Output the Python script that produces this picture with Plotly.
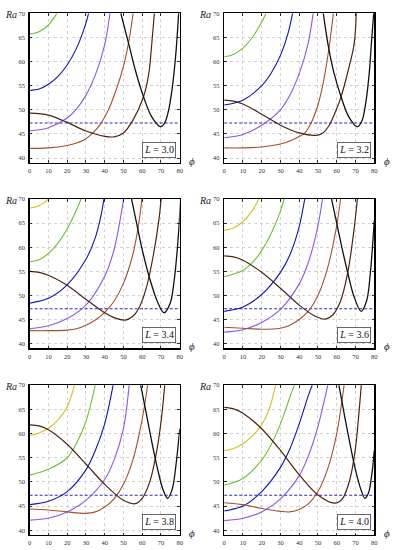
import plotly.graph_objects as go

# ---------------- data ----------------
L_labels = ["3.0", "3.2", "3.4", "3.6", "3.8", "4.0"]
threshold_Ra = 47.25
x_ticks = [0, 10, 20, 30, 40, 50, 60, 70, 80]
y_ticks = [40, 45, 50, 55, 60, 65, 70]

# curve order: yellow, green, blue, purple, brown, darkbrown, black
curve_names = ["yellow", "green", "blue", "purple", "brown", "darkbrown", "black"]
curve_colors = ["#d6bf1f", "#6cc12e", "#1010c0", "#8a55ee", "#a0522d", "#4a2612", "#111111"]
curve_widths = [1.1, 1.1, 1.1, 1.1, 1.1, 1.2, 1.3]

# L = 3.0
L30_green = ([0, 5, 10, 14.5, 16], [65.7, 66.2, 67.6, 70, 71])
L30_blue = ([0, 5, 10, 15, 20, 25, 30, 32], [54.0, 54.3, 55.3, 56.9, 59.3, 62.8, 68, 71])
L30_purple = ([0, 10, 20, 25, 30, 35, 40, 43], [45.6, 46.3, 48.3, 50.2, 53, 57.2, 63.5, 70.5])
L30_brown = ([0, 10, 20, 25, 30, 34, 38, 42, 46, 50, 53, 55.5],
             [42.0, 42.1, 42.6, 43.1, 44.0, 45.3, 47.2, 50, 54, 59, 64.5, 71])
L30_dark = ([0, 10, 20, 30, 40, 45, 50, 55, 60.7, 63.5, 65.1, 66.7],
            [49.3, 48.9, 47.4, 45.6, 44.5, 44.4, 45.2, 47.8, 52.7, 57.5, 63.7, 71])
L30_black = ([48.3, 52.8, 56.5, 60.7, 65, 69.8, 72, 74, 76, 78, 79.5],
             [70.5, 63.7, 58, 52.7, 48.6, 46.5, 47.3, 49.8, 54.5, 62, 70.5])

# L = 3.2
L32_green = ([0, 5, 10, 15, 20, 23.5], [61.0, 61.5, 62.8, 65, 68.2, 71])
L32_blue = ([0, 10, 20, 25, 30, 34, 37], [51.0, 52.0, 55.0, 57.6, 61.3, 65.8, 71])
L32_purple = ([0, 10, 20, 30, 35, 40, 44.7, 47.8], [44.2, 44.9, 46.8, 50, 53, 57.5, 63.7, 71])
L32_brown = ([0, 10, 20, 30, 36, 43, 46, 50, 53, 56.2, 58.5],
             [42.1, 42.1, 42.3, 42.9, 43.7, 45.2, 47, 51, 56, 63.7, 71])
L32_dark = ([0, 5, 10, 20, 30, 40, 49, 52.6, 56, 59, 62.3, 66, 69.3, 70.5],
            [52.0, 51.8, 51.2, 49.1, 46.8, 45.2, 44.7, 45.2, 46.8, 49.3, 52.7, 58, 63.7, 71])
L32_black = ([52.5, 55.3, 58.5, 62.3, 66.5, 71, 73.5, 75.5, 77.3, 78.7, 80],
             [71, 63.7, 57.7, 52.7, 48.5, 46.5, 47.8, 51.5, 57.5, 65, 71.5])

# L = 3.4
L34_yellow = ([0, 5, 10, 11.5], [68.1, 68.6, 70, 70.8])
L34_green = ([0, 5, 10, 15, 20, 25, 28.5], [57.0, 57.4, 58.7, 60.8, 63.8, 67.8, 71])
L34_blue = ([0, 10, 20, 30, 35, 38, 39.8], [48.4, 49.4, 52.2, 57.5, 62, 66.5, 70.5])
L34_purple = ([0, 10, 20, 30, 40, 45, 50.3], [43.1, 43.7, 45.2, 48, 54, 59.5, 70.5])
L34_brown = ([0, 10, 20, 25, 30, 35, 40, 45, 50, 55, 58, 60],
             [42.7, 42.7, 42.8, 43.1, 43.8, 44.9, 46.5, 48.8, 52.5, 58.5, 64.5, 70.5])
L34_dark = ([0, 5, 10, 20, 30, 40, 45, 51, 55, 58, 62, 66, 69, 70.3],
            [55, 54.8, 54.2, 52.1, 49.2, 46.4, 45.4, 44.9, 45.7, 47.2, 51.3, 58.5, 66, 71])
L34_black = ([53.8, 57, 60, 64, 68, 71.6, 75, 77, 79, 80.5],
             [71, 65, 59.5, 53.5, 48.8, 46.4, 48.5, 53, 61, 70])

# L = 3.6
L36_yellow = ([0, 5, 10, 15, 19.2], [63.5, 64, 65.3, 67.6, 70.6])
L36_green = ([0, 10, 15, 20, 25, 30, 32.5], [53.9, 55.2, 56.8, 59.3, 62.8, 67.5, 70.8])
L36_blue = ([0, 10, 20, 30, 35, 40, 43.3], [46.7, 47.6, 50.2, 54.8, 58.4, 64.3, 70.8])
L36_purple = ([0, 10, 20, 30, 40, 45, 50, 52.7], [42.4, 42.9, 44.4, 47.1, 52.4, 57, 64.5, 70.8])
L36_brown = ([0, 10, 20, 30, 35, 40, 45, 50, 55, 60, 62.3],
             [43.4, 43.2, 43.0, 43.2, 43.8, 45, 46.8, 50, 55.5, 64.5, 70.8])
L36_dark = ([0, 5, 10, 20, 30, 40, 48, 54, 58, 62, 66, 69, 71.3],
            [58.2, 58, 57.3, 54.8, 51.5, 48, 45.8, 45.1, 46, 48.8, 55, 63, 71])
L36_black = ([56.8, 60, 63, 66, 69, 73, 76, 78, 80],
             [70.8, 65, 59.5, 54.5, 50, 46.7, 49, 55, 65.5])

# L = 3.8
L38_yellow = ([0, 5, 10, 15, 20, 24.3], [59.6, 60.1, 61.1, 62.8, 65.5, 70.6])
L38_green = ([0, 10, 20, 25, 30, 35.3], [51.4, 52.6, 55, 58, 62.5, 70.6])
L38_blue = ([0, 10, 20, 30, 35, 40, 44.8], [45.3, 46.0, 48.0, 52.5, 56.5, 62, 70.6])
L38_purple = ([0, 10, 20, 30, 40, 45, 50, 53.2], [42.1, 42.5, 43.8, 46.2, 50.5, 54.5, 61, 70.6])
L38_brown = ([0, 10, 20, 30, 35, 40, 45, 50, 55, 60, 63.2],
             [44.4, 44.2, 43.8, 43.5, 43.8, 44.8, 46.5, 49.5, 54.5, 63, 70.8])
L38_dark = ([0, 5, 10, 20, 30, 40, 50, 56.3, 60, 64, 68, 70.5, 72.2],
            [61.8, 61.6, 60.8, 57.8, 53.7, 49.5, 46.2, 45.5, 46.6, 50, 57, 64, 71])
L38_black = ([58.8, 62, 65, 68, 71, 73.5, 76, 78, 80],
             [70.8, 64.5, 58.5, 53, 48.5, 46.6, 48.5, 53.5, 61])

# L = 4.0
L40_yellow = ([0, 5, 10, 15, 20, 24, 27.8], [56.5, 56.9, 57.9, 59.5, 61.8, 65, 70.6])
L40_green = ([0, 10, 20, 25, 30, 35, 38.2], [49.3, 50.7, 54.5, 57.7, 62, 67.5, 70.8])
L40_blue = ([0, 10, 20, 30, 35, 40, 45, 47.7], [44, 45, 48, 53, 56.8, 62, 68, 70.8])
L40_purple = ([0, 10, 20, 30, 40, 45, 50, 55.7], [42, 42.5, 43.8, 46.5, 51.3, 55.5, 61.5, 70.8])
L40_brown = ([0, 10, 20, 30, 35, 40, 45, 50, 55, 60, 64.2],
             [45.7, 45.3, 44.5, 43.9, 43.8, 44.3, 45.5, 48, 52.5, 60, 70.8])
L40_dark = ([0, 5, 10, 20, 30, 40, 50, 59, 63, 67, 70, 72, 73.3],
            [65.4, 65.1, 64.2, 61, 56.5, 51.5, 47.3, 45.6, 46.5, 50.5, 57, 65, 71])
L40_black = ([60.8, 64, 67, 70, 73, 75, 77, 79, 80],
             [70.8, 64, 58, 52.5, 48.3, 46.6, 47.8, 52.5, 56.5])

panels = [
    {"yellow": None, "green": L30_green, "blue": L30_blue, "purple": L30_purple,
     "brown": L30_brown, "darkbrown": L30_dark, "black": L30_black},
    {"yellow": None, "green": L32_green, "blue": L32_blue, "purple": L32_purple,
     "brown": L32_brown, "darkbrown": L32_dark, "black": L32_black},
    {"yellow": L34_yellow, "green": L34_green, "blue": L34_blue, "purple": L34_purple,
     "brown": L34_brown, "darkbrown": L34_dark, "black": L34_black},
    {"yellow": L36_yellow, "green": L36_green, "blue": L36_blue, "purple": L36_purple,
     "brown": L36_brown, "darkbrown": L36_dark, "black": L36_black},
    {"yellow": L38_yellow, "green": L38_green, "blue": L38_blue, "purple": L38_purple,
     "brown": L38_brown, "darkbrown": L38_dark, "black": L38_black},
    {"yellow": L40_yellow, "green": L40_green, "blue": L40_blue, "purple": L40_purple,
     "brown": L40_brown, "darkbrown": L40_dark, "black": L40_black},
]

# ---------------- layout ----------------
W, H = 397, 550
col_px = [(28, 180), (225, 377)]
row_px = [(9.5, 160), (196.5, 347), (384, 535)]

SERIF = "Liberation Serif"
fig = go.Figure()
annotations = []

for i, panel in enumerate(panels):
    r, c = divmod(i, 2)
    ax = "" if i == 0 else str(i + 1)
    xref, yref = "x" + ax, "y" + ax
    x0, x1 = col_px[c]
    y0, y1 = row_px[r]
    xdom = [x0 / W, x1 / W]
    ydom = [1 - y1 / H, 1 - y0 / H]
    common = dict(showline=True, linecolor="black", linewidth=1.3, mirror="ticks",
                  ticks="inside", ticklen=2.5, tickwidth=0.8, tickcolor="black",
                  showgrid=True, gridcolor="#c8c8c8", griddash="dot", gridwidth=0.8,
                  zeroline=False, tickfont=dict(family=SERIF, size=6.5, color="#333"))
    fig.update_layout(**{
        "xaxis" + ax: dict(domain=xdom, range=[0, 80], tickvals=x_ticks, anchor=yref,
                           ticklabelstandoff=1, **common),
        "yaxis" + ax: dict(domain=ydom, range=[39, 70], tickvals=y_ticks, anchor=xref,
                           ticklabelstandoff=2, **common),
    })
    # threshold line
    fig.add_trace(go.Scatter(x=[0, 80], y=[threshold_Ra, threshold_Ra], mode="lines",
                             line=dict(color="#2a2ac0", width=1.1, dash="3px,2px"),
                             xaxis=xref, yaxis=yref, showlegend=False, hoverinfo="skip"))
    for name, color, w in zip(curve_names, curve_colors, curve_widths):
        d = panel[name]
        if d is None:
            continue
        fig.add_trace(go.Scatter(x=d[0], y=d[1], mode="lines",
                                 line=dict(color=color, width=w, shape="spline", smoothing=0.9),
                                 xaxis=xref, yaxis=yref, showlegend=False, hoverinfo="skip"))
    # Ra label
    annotations.append(dict(text="<i>Ra</i>", x=(x0 - 19) / W, y=1 - (y0 + 1) / H,
                            xref="paper", yref="paper", showarrow=False,
                            xanchor="center", yanchor="middle",
                            font=dict(family=SERIF, size=10, color="#222")))
    # phi label
    annotations.append(dict(text="<i>ϕ</i>", x=(x1 + 12.5) / W, y=1 - (y1 - 2) / H,
                            xref="paper", yref="paper", showarrow=False,
                            xanchor="center", yanchor="middle",
                            font=dict(family=SERIF, size=11, color="#222")))
    # L box
    annotations.append(dict(text="<i>L</i> = " + L_labels[i], x=69, y=41.7,
                            xref=xref, yref=yref, showarrow=False,
                            xanchor="center", yanchor="middle",
                            bgcolor="white", bordercolor="#444", borderwidth=0.8, borderpad=1.5,
                            font=dict(family=SERIF, size=10, color="#111")))

fig.update_layout(width=W, height=H, margin=dict(l=0, r=0, t=0, b=0),
                  paper_bgcolor="white", plot_bgcolor="white",
                  annotations=annotations, showlegend=False)

fig.write_html("out.html", config={"displayModeBar": False, "staticPlot": True},
               post_script="document.body.style.margin='0';")
with open("out.html", "r", encoding="utf-8") as f:
    html = f.read()
html = html.replace("<head>", "<head><style>html,body{margin:0;padding:0;overflow:hidden;}</style>", 1)
with open("out.html", "w", encoding="utf-8") as f:
    f.write(html)
